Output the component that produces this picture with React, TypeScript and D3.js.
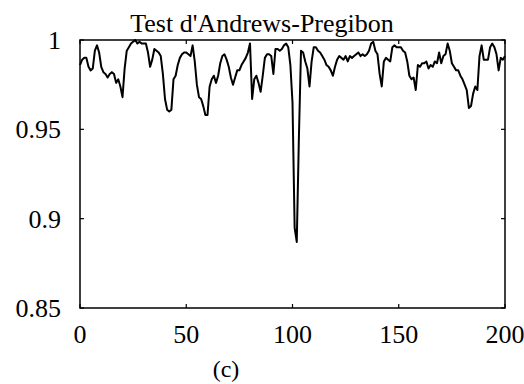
import React from "react";
import * as d3 from "d3";

const title = "Test d'Andrews-Pregibon";
const caption = "(c)";
const xTicks = [0, 50, 100, 150, 200];
const yTicks = [0.85, 0.9, 0.95, 1];
const yTickLabels = ["0.85", "0.9", "0.95", "1"];

// value of the statistic for observations 0..200
const values = [
  0.986, 0.989, 0.990, 0.990, 0.985, 0.983, 0.984, 0.994, 0.997, 0.993,
  0.985, 0.982, 0.981, 0.979, 0.981, 0.982, 0.981, 0.976, 0.978, 0.974,
  0.968, 0.984, 0.994, 0.996, 0.998, 0.999, 1.000, 0.998, 0.999, 0.998,
  0.998, 0.998, 0.993, 0.985, 0.989, 0.995, 0.994, 0.993, 0.991, 0.981,
  0.967, 0.961, 0.960, 0.961, 0.978, 0.980, 0.986, 0.990, 0.992, 0.993,
  0.993, 0.992, 0.991, 0.997, 0.988, 0.975, 0.968, 0.967, 0.963, 0.958,
  0.958, 0.974, 0.978, 0.980, 0.976, 0.980, 0.987, 0.991, 0.992, 0.989,
  0.985, 0.979, 0.975, 0.979, 0.983, 0.983, 0.986, 0.988, 0.990, 0.993,
  0.998, 0.967, 0.978, 0.980, 0.976, 0.971, 0.980, 0.990, 0.992, 0.992,
  0.991, 0.981, 0.995, 0.995, 0.994, 0.995, 0.997, 0.998, 0.996, 0.986,
  0.965, 0.895, 0.887, 0.945, 0.994, 0.993, 0.988, 0.984, 0.974, 0.988,
  0.996, 0.996, 0.994, 0.993, 0.991, 0.989, 0.986, 0.985, 0.983, 0.980,
  0.985, 0.989, 0.991, 0.990, 0.989, 0.991, 0.988, 0.991, 0.990, 0.991,
  0.992, 0.993, 0.991, 0.992, 0.991, 0.992, 0.994, 0.998, 0.999, 0.994,
  0.992, 0.981, 0.974, 0.988, 0.990, 0.989, 0.988, 0.996, 0.997, 0.996,
  0.996, 0.996, 0.994, 0.993, 0.988, 0.980, 0.978, 0.979, 0.972, 0.986,
  0.985, 0.987, 0.987, 0.988, 0.984, 0.986, 0.985, 0.988, 0.987, 0.993,
  0.987, 0.991, 0.992, 0.998, 0.994, 0.987, 0.985, 0.983, 0.983, 0.980,
  0.978, 0.975, 0.972, 0.962, 0.963, 0.970, 0.974, 0.972, 0.991, 0.997,
  0.989, 0.989, 0.989, 0.996, 0.998, 0.996, 0.992, 0.983, 0.990, 0.989,
  0.991,
];

const W = 524;
const H = 384;
const M = { left: 80, right: 505, top: 40, bottom: 308 };
const FONT = "'Liberation Serif', 'Times New Roman', serif";

export default function App() {
  const x = d3.scaleLinear().domain([0, 200]).range([M.left, M.right]);
  const y = d3.scaleLinear().domain([0.85, 1]).range([M.bottom, M.top]);
  const line = d3
    .line<number>()
    .x((_, i) => x(i))
    .y((d) => y(d));
  const tl = 4;
  return (
    <svg
      width={W}
      height={H}
      style={{ position: "absolute", left: 0, top: 0, background: "#fff" }}
      fontFamily={FONT}
    >
      <rect width={W} height={H} fill="#fff" />
      <text x={262} y={32} fontSize={26} textAnchor="middle" fill="#000">
        {title}
      </text>
      <path d={line(values) || ""} fill="none" stroke="#000" strokeWidth={2} strokeLinejoin="round" />
      <rect
        x={M.left}
        y={M.top}
        width={M.right - M.left}
        height={M.bottom - M.top}
        fill="none"
        stroke="#000"
        strokeWidth={1.5}
      />
      {yTicks.map((t, i) => (
        <g key={"y" + i}>
          <line x1={M.left} x2={M.left + tl} y1={y(t)} y2={y(t)} stroke="#000" strokeWidth={1.2} />
          <line x1={M.right} x2={M.right - tl} y1={y(t)} y2={y(t)} stroke="#000" strokeWidth={1.2} />
          <text x={61} y={y(t) + 9} fontSize={26} textAnchor="end" fill="#000">
            {yTickLabels[i]}
          </text>
        </g>
      ))}
      {xTicks.map((t, i) => (
        <g key={"x" + i}>
          <line x1={x(t)} x2={x(t)} y1={M.bottom} y2={M.bottom - tl} stroke="#000" strokeWidth={1.2} />
          <line x1={x(t)} x2={x(t)} y1={M.top} y2={M.top + tl} stroke="#000" strokeWidth={1.2} />
          <text x={x(t)} y={343} fontSize={26} textAnchor="middle" fill="#000">
            {String(t)}
          </text>
        </g>
      ))}
      <text x={226} y={377} fontSize={24} textAnchor="middle" fill="#000">
        {caption}
      </text>
    </svg>
  );
}
